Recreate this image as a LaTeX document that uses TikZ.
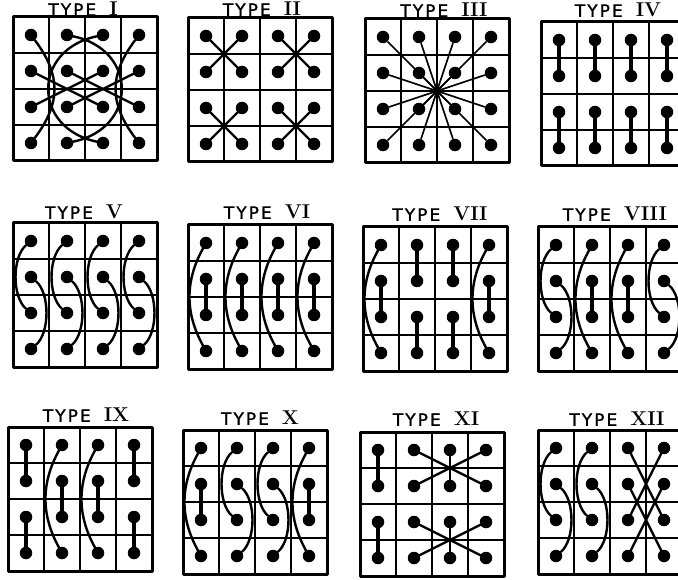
\documentclass[tikz,border=0pt]{standalone}
\usepackage{fontspec}
\newfontfamily\labfont[LetterSpace=12,FakeBold=1.2]{DejaVu Sans}
\newcommand\drawpanel[3]{%
  \foreach \i in {1,2,3}{%
    \draw[gridin] ({#2+36*\i},#3) -- ({#2+36*\i},{#3+144});
    \draw[gridin] (#2,{#3+36*\i}) -- ({#2+144},{#3+36*\i});}
  \draw[gridout] (#2,#3) rectangle ({#2+144},{#3+144});
  \foreach \c in {1,...,4}{\foreach \r in {1,...,4}{%
    \node[dot] (#1-\c-\r) at ({#2+36*\c-18},{#3+36*\r-18}) {};}}%
}
\newcommand\sshape[2]{%
  \draw[link] (#1-#2-1) .. controls +(-19,16) and +(-19,-16) .. (#1-#2-3);
  \draw[link] (#1-#2-2) .. controls +(19,16) and +(19,-16) .. (#1-#2-4);}
\newcommand\longc[2]{%
  \draw[link] (#1-#2-1) .. controls +(-21,38) and +(-21,-38) .. (#1-#2-4);
  \draw[barln] (#1-#2-2) -- (#1-#2-3);}
\newcommand\pbars[2]{%
  \draw[barln] (#1-#2-1) -- (#1-#2-2);
  \draw[barln] (#1-#2-3) -- (#1-#2-4);}
\newcommand\typelabel[4]{%
  \node[lab] (#1) at (#2,#3) {TYPE\hspace{13pt}{\rmfamily\bfseries\fontsize{20}{20}\selectfont #4}};}
\begin{document}
\begin{tikzpicture}[x=1pt,y=-1pt,
  dot/.style={circle,fill=black,inner sep=0pt,minimum size=12.5pt},
  link/.style={line width=2.4pt,line cap=round},
  thinlink/.style={line width=1.6pt},
  barln/.style={line width=3.4pt},
  gridin/.style={line width=1.9pt},
  gridout/.style={line width=3pt,line join=round},
  lab/.style={inner sep=0pt,font=\labfont\fontsize{17}{17}\selectfont}]
\useasboundingbox (0,0) rectangle (678,580);
\clip (0,0) rectangle (678,580);

% ---------- labels ----------
\typelabel{L1}{83}{9}{I}
\typelabel{L2}{262}{9}{II}
\typelabel{L3}{444}{10}{III}
\typelabel{L4}{618}{10}{IV}
\typelabel{L5}{84}{212}{V}
\typelabel{L6}{267}{212}{VI}
\typelabel{L7}{440}{214}{VII}
\typelabel{L8}{615}{214}{VIII}
\typelabel{L9}{86}{415}{IX}
\typelabel{L10}{260}{418}{X}
\typelabel{L11}{436}{419}{XI}
\typelabel{L12}{617}{419}{XII}

% ---------- panels ----------
\drawpanel{I}{13}{17}
\drawpanel{II}{188}{18}
\drawpanel{III}{365}{19}
\drawpanel{IV}{541}{22}
\drawpanel{V}{13}{223}
\drawpanel{VI}{188}{225}
\drawpanel{VII}{363}{227}
\drawpanel{VIII}{538}{227}
\drawpanel{IX}{8}{427}
\drawpanel{X}{183}{430}
\drawpanel{XI}{360}{432}
\drawpanel{XII}{538}{430}

% Type I
\draw[link] (I-2-1) .. controls +(71,15) and +(71,-15) .. (I-2-4);
\draw[link] (I-3-1) .. controls +(-71,15) and +(-71,-15) .. (I-3-4);
\draw[link] (I-1-1) .. controls +(30,40) and +(30,-40) .. (I-1-4);
\draw[link] (I-4-1) .. controls +(-30,40) and +(-30,-40) .. (I-4-4);
\draw[link] (I-1-2) -- (I-3-3);
\draw[link] (I-3-2) -- (I-1-3);
\draw[link] (I-2-2) -- (I-4-3);
\draw[link] (I-4-2) -- (I-2-3);

% Type II
\draw[link] (II-1-1) -- (II-2-2); \draw[link] (II-2-1) -- (II-1-2);
\draw[link] (II-3-1) -- (II-4-2); \draw[link] (II-4-1) -- (II-3-2);
\draw[link] (II-1-3) -- (II-2-4); \draw[link] (II-2-3) -- (II-1-4);
\draw[link] (II-3-3) -- (II-4-4); \draw[link] (II-4-3) -- (II-3-4);

% Type III
\coordinate (III-c) at (437,91);
\foreach \c in {1,...,4}{\foreach \r in {1,...,4}{\draw[thinlink] (III-\c-\r) -- (III-c);}}

% Type IV
\foreach \c in {1,...,4}{\pbars{IV}{\c}}

% Type V
\foreach \c in {1,...,4}{\sshape{V}{\c}}

% Type VI
\foreach \c in {1,...,4}{\longc{VI}{\c}}

% Type VII
\longc{VII}{1} \pbars{VII}{2} \pbars{VII}{3} \longc{VII}{4}

% Type VIII
\sshape{VIII}{1} \longc{VIII}{2} \longc{VIII}{3} \sshape{VIII}{4}

% Type IX
\pbars{IX}{1} \longc{IX}{2} \longc{IX}{3} \pbars{IX}{4}

% Type X
\longc{X}{1} \sshape{X}{2} \sshape{X}{3} \longc{X}{4}

% Type XI
\pbars{XI}{1}
\draw[link] (XI-2-1) -- (XI-4-2); \draw[link] (XI-4-1) -- (XI-2-2); \draw[link] (XI-3-1) -- (XI-3-2);
\draw[link] (XI-2-3) -- (XI-4-4); \draw[link] (XI-4-3) -- (XI-2-4); \draw[link] (XI-3-3) -- (XI-3-4);

% Type XII
\sshape{XII}{1} \sshape{XII}{2}
\draw[link] (XII-3-1) -- (XII-4-3); \draw[link] (XII-4-1) -- (XII-3-3);
\draw[link] (XII-3-2) -- (XII-4-4); \draw[link] (XII-4-2) -- (XII-3-4);
\end{tikzpicture}
\end{document}
